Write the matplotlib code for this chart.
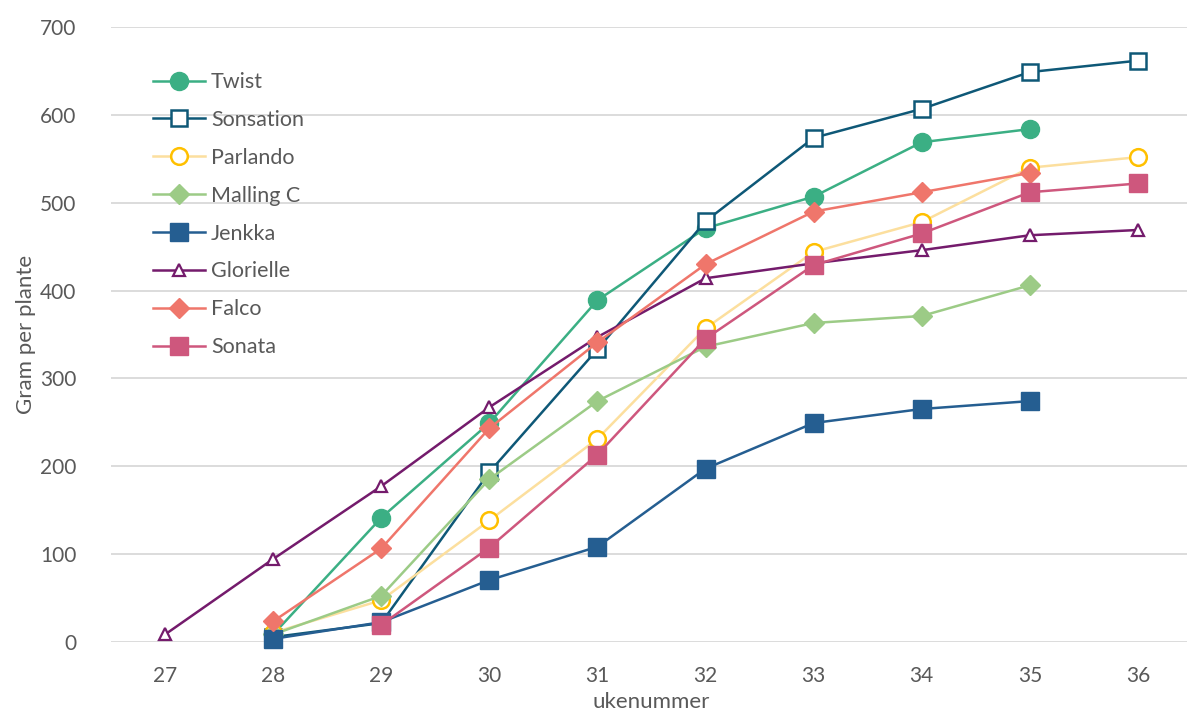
import matplotlib
matplotlib.use("Agg")
import matplotlib.pyplot as plt

plt.rcParams['font.family'] = ['Lato', 'DejaVu Sans']

weeks = [27, 28, 29, 30, 31, 32, 33, 34, 35, 36]

twist = [None, 8, 141, 249, 389, 471, 507, 569, 584, None]
sonsation = [None, 5, 21, 193, 333, 479, 574, 607, 649, 662]
parlando = [None, 10, 47, 138, 231, 357, 444, 478, 540, 552]
malling_c = [None, 8, 52, 185, 274, 336, 363, 371, 406, None]
jenkka = [None, 3, 22, 70, 108, 197, 249, 265, 274, None]
glorielle = [8, 94, 177, 267, 347, 414, 431, 446, 463, 469]
falco = [None, 23, 106, 243, 341, 430, 490, 512, 534, None]
sonata = [None, None, 19, 107, 213, 345, 429, 465, 512, 522]

series = [
    ("Twist", twist, dict(color="#3BAF84", marker="o", ms=13, mfc="#3BAF84", mec="#3BAF84")),
    ("Sonsation", sonsation, dict(color="#0E5877", marker="s", ms=12, mfc="white", mec="#0E5877", mew=1.8)),
    ("Parlando", parlando, dict(color="#FCDF9E", marker="o", ms=12, mfc="white", mec="#FFC000", mew=1.8)),
    ("Malling C", malling_c, dict(color="#9CCB86", marker="D", ms=10, mfc="#9CCB86", mec="#9CCB86")),
    ("Jenkka", jenkka, dict(color="#255E91", marker="s", ms=13, mfc="#255E91", mec="#255E91")),
    ("Glorielle", glorielle, dict(color="#741B6C", marker="^", ms=9, mfc="white", mec="#741B6C", mew=1.6)),
    ("Falco", falco, dict(color="#EF766B", marker="D", ms=10, mfc="#EF766B", mec="#EF766B")),
    ("Sonata", sonata, dict(color="#CE577D", marker="s", ms=13, mfc="#CE577D", mec="#CE577D")),
]

W, H = 1187, 713
fig = plt.figure(figsize=(W / 100, H / 100), dpi=100)
ax = fig.add_axes([111 / W, (H - 641.5) / H, (1192 - 111) / W, (641.5 - 27.3) / H])

for name, vals, style in series:
    xs = [w for w, v in zip(weeks, vals) if v is not None]
    ys = [v for v in vals if v is not None]
    ax.plot(xs, ys, lw=1.8, label=name, clip_on=False, **style)

ax.set_xlim(26.5, 36.5)
ax.set_ylim(0, 700)
ax.set_xticks(weeks)
ax.set_yticks(range(0, 701, 100))
ax.grid(axis="y", color="#D9D9D9", lw=1.3)
ax.set_axisbelow(True)
for s in ax.spines.values():
    s.set_visible(False)
ax.tick_params(length=0, labelsize=15, colors="#595959")
ax.tick_params(axis="y", pad=25)
ax.tick_params(axis="x", pad=18)

ax.set_xlabel("ukenummer", fontsize=16, color="#595959", labelpad=4)
ax.set_ylabel("Gram per plante", fontsize=16, color="#595959", labelpad=3)

leg = ax.legend(loc="upper left", bbox_to_anchor=(0.031, 0.941), frameon=False,
                fontsize=15.5, labelcolor="#595959", handlelength=2.4,
                handletextpad=0.28, labelspacing=0.83, borderaxespad=0)

fig.savefig("out.png", dpi=100)
